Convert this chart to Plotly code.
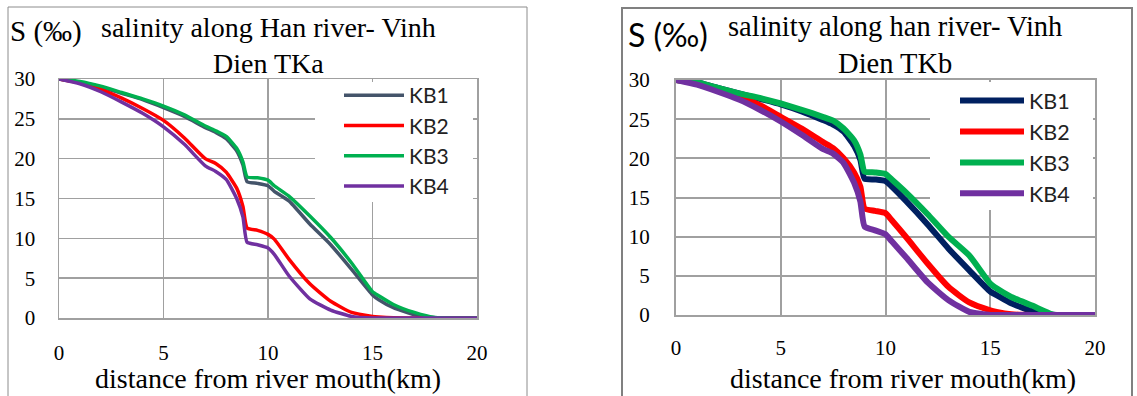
import plotly.graph_objects as go

W, H = 1137, 396

# ---------------- data ----------------
series_names = ["KB1", "KB2", "KB3", "KB4"]

dist_km = [0, 1, 2, 3, 4, 5, 6, 7, 7.5, 8, 8.5, 8.8, 9, 9.5, 10, 10.3, 11, 12, 13, 14, 15, 15.3, 16, 17, 18, 19, 20]

# TKa (left panel)
tka_kb1 = [30, 29.6, 29.0, 28.2, 27.4, 26.4, 25.3, 23.9, 23.3, 22.5, 21.0, 19.2, 17.1, 16.9, 16.6, 15.9, 14.7, 11.8, 9.2, 6.1, 2.9, 2.3, 1.3, 0.4, 0.03, 0, 0]
tka_kb2 = [30, 29.5, 28.7, 27.6, 26.3, 24.8, 22.6, 20.0, 19.4, 18.3, 16.3, 14.0, 11.3, 11.0, 10.5, 9.9, 7.4, 4.3, 2.1, 0.7, 0.2, 0.12, 0.02, 0, 0, 0, 0]
tka_kb3 = [30, 29.7, 29.1, 28.3, 27.5, 26.6, 25.5, 24.1, 23.5, 22.8, 21.3, 19.6, 17.7, 17.6, 17.3, 16.6, 15.3, 12.8, 10.1, 6.9, 3.3, 2.8, 1.7, 0.7, 0.05, 0, 0]
tka_kb4 = [30, 29.4, 28.4, 27.1, 25.7, 24.0, 21.8, 19.1, 18.4, 17.4, 15.0, 12.7, 9.5, 9.2, 8.8, 8.0, 5.3, 2.4, 1.0, 0.2, 0, 0, 0, 0, 0, 0, 0]

# TKb (right panel)
tkb_kb1 = [30, 29.7, 29.0, 28.3, 27.6, 26.9, 26.0, 24.9, 24.3, 23.4, 21.6, 19.8, 17.4, 17.3, 17.1, 16.4, 14.5, 11.6, 8.5, 5.7, 3.0, 2.55, 1.5, 0.5, 0.02, 0, 0]
tkb_kb2 = [30, 29.6, 28.9, 28.0, 26.8, 25.3, 23.8, 22.1, 21.3, 20.0, 18.2, 16.4, 13.6, 13.3, 13.0, 12.1, 9.9, 6.6, 3.6, 1.6, 0.6, 0.4, 0.1, 0, 0, 0, 0]
tkb_kb3 = [30, 29.7, 29.0, 28.3, 27.7, 27.0, 26.2, 25.3, 24.8, 23.8, 22.3, 20.5, 18.3, 18.2, 18.0, 17.3, 15.6, 12.9, 10.0, 7.6, 4.0, 3.4, 2.3, 1.2, 0.05, 0, 0]
tkb_kb4 = [30, 29.4, 28.5, 27.5, 26.2, 24.7, 23.0, 21.2, 20.6, 19.4, 16.9, 14.5, 11.3, 10.8, 10.3, 9.4, 7.3, 4.2, 1.9, 0.4, 0, 0, 0, 0, 0, 0, 0]

x_ticks = [0, 5, 10, 15, 20]
y_ticks = [0, 5, 10, 15, 20, 25, 30]

left_title = "salinity along Han river- Vinh<br>Dien TKa"
right_title = "salinity along han river- Vinh<br>Dien TKb"
y_label = "S (‰)"
x_label = "distance from river mouth(km)"

left_colors = ["#44546A", "#FF0000", "#00B050", "#7030A0"]
right_colors = ["#002060", "#FF0000", "#00B050", "#7030A0"]

# ---------------- figure ----------------
def px(x):
    return x / W

def py(y):
    return 1 - y / H

fig = go.Figure()

for name, vals, col in zip(series_names, [tka_kb1, tka_kb2, tka_kb3, tka_kb4], left_colors):
    fig.add_trace(go.Scatter(x=dist_km, y=vals, name=name, mode="lines",
                             line=dict(color=col, width=3.5, shape="spline", smoothing=0.5),
                             xaxis="x", yaxis="y", legend="legend"))

for name, vals, col in zip(series_names, [tkb_kb1, tkb_kb2, tkb_kb3, tkb_kb4], right_colors):
    fig.add_trace(go.Scatter(x=dist_km, y=vals, name=name, mode="lines",
                             line=dict(color=col, width=6, shape="spline", smoothing=0.5),
                             xaxis="x2", yaxis="y2", legend="legend2"))

grid = "#A0A0A0"
serif = "Liberation Serif, Times New Roman, serif"
sans = "Lato, sans-serif"

tickfont = dict(family=serif, size=21, color="#000")
common_x = dict(range=[0, 20], tickvals=x_ticks, showgrid=True, gridcolor=grid, zeroline=False,
                showline=True, mirror=True, linecolor=grid, ticks="", automargin=False,
                tickfont=tickfont, fixedrange=True)
common_y = dict(range=[0, 30], tickvals=y_ticks, showgrid=True, gridcolor=grid, zeroline=False,
                showline=True, mirror=True, linecolor=grid, ticks="", automargin=False,
                tickfont=tickfont, fixedrange=True)

fig.update_layout(
    width=W, height=H, margin=dict(l=0, r=0, t=0, b=0, autoexpand=False),
    paper_bgcolor="white", plot_bgcolor="white",
    xaxis=dict(domain=[px(59), px(477)], anchor="y", gridwidth=1.5, linewidth=1.5,
               ticklabelstandoff=15, **common_x),
    yaxis=dict(domain=[py(318), py(79)], anchor="x", gridwidth=1.5, linewidth=1.5,
               ticklabelstandoff=18, **common_y),
    xaxis2=dict(domain=[px(676), px(1095)], anchor="y2", gridwidth=2, linewidth=2,
                ticklabelstandoff=13, **common_x),
    yaxis2=dict(domain=[py(315), py(80)], anchor="x2", gridwidth=2, linewidth=2,
                ticklabelstandoff=20, **common_y),
    legend=dict(x=px(339), y=py(75), xanchor="left", yanchor="top", bgcolor="rgba(0,0,0,0)",
                font=dict(family=sans, size=21, color="#222"), itemwidth=60, tracegroupgap=0),
    legend2=dict(x=px(955), y=py(80), xanchor="left", yanchor="top", bgcolor="rgba(0,0,0,0)",
                 font=dict(family=sans, size=21.5, color="#222"), itemwidth=64, tracegroupgap=0),
    showlegend=True,
)

ann = []
# chart titles
ann.append(dict(text=left_title, x=px(268), y=py(45), xref="paper", yref="paper",
                xanchor="center", yanchor="middle", showarrow=False,
                font=dict(family=serif, size=28, color="#000")))
ann.append(dict(text=right_title, x=px(895), y=py(45), xref="paper", yref="paper",
                xanchor="center", yanchor="middle", showarrow=False,
                font=dict(family=serif, size=28.5, color="#000")))
# y labels
ann.append(dict(text=y_label, x=px(8), y=py(31), xref="paper", yref="paper",
                xanchor="left", yanchor="middle", showarrow=False,
                font=dict(family=serif, size=29, color="#000")))
ann.append(dict(text=y_label, x=px(626), y=py(35), xref="paper", yref="paper",
                xanchor="left", yanchor="middle", showarrow=False,
                font=dict(family=sans, size=32, color="#000")))
# x labels
ann.append(dict(text=x_label, x=px(268), y=py(378), xref="paper", yref="paper",
                xanchor="center", yanchor="middle", showarrow=False,
                font=dict(family=serif, size=28, color="#000")))
ann.append(dict(text=x_label, x=px(903), y=py(378), xref="paper", yref="paper",
                xanchor="center", yanchor="middle", showarrow=False,
                font=dict(family=serif, size=28, color="#000")))
fig.update_layout(annotations=ann)

# chart frames
fig.add_shape(type="rect", xref="paper", yref="paper", x0=px(8), x1=px(527), y0=py(400), y1=py(7),
              line=dict(color="#8C8C8C", width=1), layer="below")
fig.add_shape(type="rect", xref="paper", yref="paper", x0=px(622), x1=px(1132), y0=py(400), y1=py(8),
              line=dict(color="#808080", width=2), layer="below")

# white legend backgrounds hiding the gridlines (no curve passes through these areas)
fig.add_shape(type="rect", xref="paper", yref="paper", x0=px(315), x1=px(473), y0=py(202), y1=py(82),
              fillcolor="white", line=dict(width=0), layer="above")
fig.add_shape(type="rect", xref="paper", yref="paper", x0=px(930), x1=px(1093), y0=py(210), y1=py(82),
              fillcolor="white", line=dict(width=0), layer="above")

fig.write_html("out.html", config={"displayModeBar": False, "staticPlot": True},
               post_script="document.body.style.margin='0px';")
